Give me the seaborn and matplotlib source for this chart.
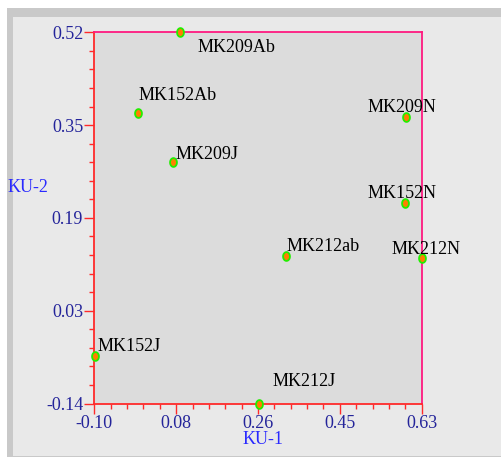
import numpy as np
import matplotlib
matplotlib.use('Agg')
import matplotlib.pyplot as plt
import seaborn as sns
from matplotlib.patches import Rectangle
from matplotlib.path import Path
from matplotlib.ticker import AutoMinorLocator, FixedLocator

# chart values
names = ['MK209Ab', 'MK152Ab', 'MK209J', 'MK209N', 'MK152N',
         'MK212ab', 'MK212N', 'MK152J', 'MK212J']
ku1 = [0.091, -0.003, 0.075, 0.595, 0.592, 0.327, 0.630, -0.098, 0.268]
ku2 = [0.520, 0.376, 0.289, 0.369, 0.216, 0.123, 0.118, -0.056, -0.140]

x_ticks = [-0.10, 0.0825, 0.265, 0.4475, 0.63]
x_tick_labels = ['-0.10', '0.08', '0.26', '0.45', '0.63']
y_ticks = [-0.14, 0.025, 0.19, 0.355, 0.52]
y_tick_labels = ['-0.14', '0.03', '0.19', '0.35', '0.52']

# label offsets (pixels, left/baseline relative to point)
label_offsets = {
    'MK209Ab': (18, -20), 'MK152Ab': (1, 13), 'MK209J': (3, 3),
    'MK209N': (-38, 5), 'MK152N': (-37, 5), 'MK212ab': (1, 5),
    'MK212N': (-30, 4), 'MK152J': (2, 5), 'MK212J': (13, 17),
}

sns.set_style('white')
plt.rcParams['font.family'] = ['Liberation Serif', 'DejaVu Serif']

W, H = 502, 459
fig = plt.figure(figsize=(W / 100, H / 100), dpi=100)
fig.patch.set_facecolor('white')

# outer frame + panel (behind the axes)
fig.patches.append(Rectangle((7 / W, 2 / H), 1 - 7 / W, (457 - 8) / H,
                             transform=fig.transFigure, facecolor='#c9c9c9',
                             edgecolor='none', zorder=-2))
fig.patches.append(Rectangle((13 / W, 3.5 / H), 1 - 13 / W, (455.5 - 17) / H,
                             transform=fig.transFigure, facecolor='#e9e9e9',
                             edgecolor='none', zorder=-1))

left, right, top, bottom = 94.3, 421.7, 32.3, 403.5
ax = fig.add_axes([left / W, 1 - bottom / H, (right - left) / W, (bottom - top) / H])
ax.set_facecolor('#dcdcdc')

# slightly tall oval marker like the original
t = np.linspace(0, 2 * np.pi, 40)
oval = Path(np.column_stack([0.78 * np.cos(t), np.sin(t)]), closed=True)

sns.scatterplot(x=ku1, y=ku2, ax=ax, color='#ff7f00', edgecolor='#22ee00',
                marker=oval, s=40, linewidth=1.3, zorder=5)
for c in ax.collections:
    c.set_clip_on(False)

for name, xv, yv in zip(names, ku1, ku2):
    dx, dy = label_offsets[name]
    ax.annotate(name, (xv, yv), xytext=(dx, dy), textcoords='offset pixels',
                ha='left', va='baseline', fontsize=13, color='black', zorder=6)

ax.set_xlim(-0.10, 0.63)
ax.set_ylim(-0.14, 0.52)
ax.xaxis.set_major_locator(FixedLocator(x_ticks))
ax.yaxis.set_major_locator(FixedLocator(y_ticks))
ax.set_xticklabels(x_tick_labels)
ax.set_yticklabels(y_tick_labels)
ax.xaxis.set_minor_locator(AutoMinorLocator(5))
ax.yaxis.set_minor_locator(AutoMinorLocator(5))

for side in ['left', 'bottom']:
    ax.spines[side].set_color('#ff2a2a')
    ax.spines[side].set_linewidth(1.3)
for side in ['top', 'right']:
    ax.spines[side].set_color('#ff1a80')
    ax.spines[side].set_linewidth(1.3)

ax.tick_params(which='both', direction='out', color='#ff2a2a', width=1.0,
               bottom=True, left=True, top=False, right=False)
ax.tick_params(which='major', length=7, labelsize=13, labelcolor='#24249a', pad=1)
ax.tick_params(which='minor', length=3.5)

ax.set_xlabel('KU-1', fontsize=13, color='#2a2aff')
ax.set_ylabel('KU-2', fontsize=13, color='#2a2aff', rotation=0, ha='center', va='center')
ax.xaxis.set_label_coords((263 - left) / (right - left), (bottom - 439) / (bottom - top))
ax.yaxis.set_label_coords((28 - left) / (right - left), (bottom - 187) / (bottom - top))
ax.xaxis.label.set_va('center')

fig.savefig('out.png', dpi=100, facecolor=fig.get_facecolor())
